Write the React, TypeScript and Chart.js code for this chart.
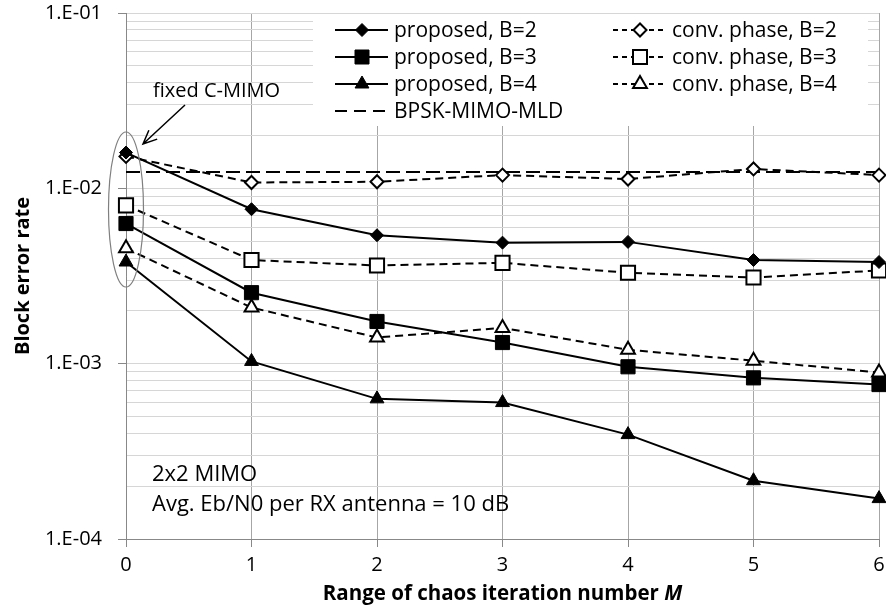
import React, { useEffect, useRef } from 'react';
import { Chart, registerables } from 'chart.js';

Chart.register(...registerables);

const M = [0, 1, 2, 3, 4, 5, 6];
const proposedB2 = [0.0160, 0.0076, 0.0054, 0.0049, 0.00495, 0.0039, 0.0038];
const convB2 = [0.0152, 0.0108, 0.0109, 0.0119, 0.0113, 0.0129, 0.0119];
const proposedB3 = [0.0063, 0.00254, 0.00174, 0.00132, 0.00096, 0.00083, 0.00076];
const convB3 = [0.0080, 0.0039, 0.00363, 0.00376, 0.0033, 0.0031, 0.0034];
const proposedB4 = [0.0038, 0.00103, 0.00063, 0.0006, 0.000394, 0.000215, 0.00017];
const convB4 = [0.00455, 0.00209, 0.00141, 0.0016, 0.0012, 0.00104, 0.00089];
const bpskMld = [0.0124, 0.0124, 0.0124, 0.0124, 0.0124, 0.0124, 0.0124];

const yDecades = [1e-4, 1e-3, 1e-2, 1e-1];
const yDecadeLabels = ['1.E-04', '1.E-03', '1.E-02', '1.E-01'];
const xTickLabels = ['0', '1', '2', '3', '4', '5', '6'];

const seriesLabels = [
  'proposed, B=2',
  'proposed, B=3',
  'proposed, B=4',
  'BPSK-MIMO-MLD',
  'conv. phase, B=2',
  'conv. phase, B=3',
  'conv. phase, B=4',
];

const FONT = '"Open Sans", Lato, "DejaVu Sans", sans-serif';
const SOLID: number[] = [];
const SHORT_DASH = [8, 5];
const LONG_DASH = [14, 6];

function markerRadius(style: string) {
  if (style === 'rect') return 10;
  if (style === 'triangle') return 8;
  return 6.5;
}

function mk(label: string, values: number[], style: string | false, filled: boolean, dash: number[]) {
  const r = style ? markerRadius(style) : 0;
  return {
    label,
    data: M.map((x, i) => ({ x, y: values[i] })),
    borderColor: '#000',
    borderWidth: 2,
    borderDash: dash,
    pointStyle: style || 'circle',
    pointRadius: r,
    pointHoverRadius: r,
    pointBackgroundColor: filled ? '#000' : '#fff',
    pointBorderColor: '#000',
    pointBorderWidth: filled ? 1 : 2,
    tension: 0,
    fill: false,
    clip: false as const,
  };
}

function drawMarker(ctx: CanvasRenderingContext2D, style: string, x: number, y: number, filled: boolean) {
  ctx.save();
  ctx.beginPath();
  if (style === 'rectRot') {
    const r = 6.5;
    ctx.moveTo(x - r, y);
    ctx.lineTo(x, y - r);
    ctx.lineTo(x + r, y);
    ctx.lineTo(x, y + r);
    ctx.closePath();
  } else if (style === 'rect') {
    const s = 7;
    ctx.rect(x - s, y - s, 2 * s, 2 * s);
  } else {
    const r = 8;
    ctx.moveTo(x, y - r);
    ctx.lineTo(x + r * 0.866, y + r * 0.5);
    ctx.lineTo(x - r * 0.866, y + r * 0.5);
    ctx.closePath();
  }
  ctx.setLineDash([]);
  ctx.fillStyle = filled ? '#000' : '#fff';
  ctx.fill();
  ctx.lineWidth = filled ? 1 : 2;
  ctx.strokeStyle = '#000';
  ctx.stroke();
  ctx.restore();
}

const decorPlugin = {
  id: 'decor',
  beforeDatasetsDraw(chart: any) {
    const ctx = chart.ctx as CanvasRenderingContext2D;
    ctx.save();
    ctx.fillStyle = '#fff';
    ctx.fillRect(313, 14, 555, 112);
    ctx.restore();
  },
  afterDraw(chart: any) {
    const ctx = chart.ctx as CanvasRenderingContext2D;
    const area = chart.chartArea;
    const xs = chart.scales.x;

    // legend
    const items = [
      { col: 0, row: 0, style: 'rectRot', filled: true, dash: SOLID, label: seriesLabels[0] },
      { col: 0, row: 1, style: 'rect', filled: true, dash: SOLID, label: seriesLabels[1] },
      { col: 0, row: 2, style: 'triangle', filled: true, dash: SOLID, label: seriesLabels[2] },
      { col: 0, row: 3, style: '', filled: false, dash: [12, 7], label: seriesLabels[3] },
      { col: 1, row: 0, style: 'rectRot', filled: false, dash: [5, 4], label: seriesLabels[4] },
      { col: 1, row: 1, style: 'rect', filled: false, dash: [5, 4], label: seriesLabels[5] },
      { col: 1, row: 2, style: 'triangle', filled: false, dash: [5, 4], label: seriesLabels[6] },
    ];
    const rowsY = [30, 57, 84, 111];
    const colX = [335, 613];
    ctx.save();
    ctx.font = `21px ${FONT}`;
    ctx.textBaseline = 'middle';
    ctx.textAlign = 'left';
    for (const it of items) {
      const x0 = colX[it.col];
      const y = rowsY[it.row];
      ctx.save();
      ctx.strokeStyle = '#000';
      ctx.lineWidth = 2;
      ctx.setLineDash(it.dash);
      ctx.beginPath();
      ctx.moveTo(x0, y);
      ctx.lineTo(x0 + 53, y);
      ctx.stroke();
      ctx.restore();
      if (it.style) drawMarker(ctx, it.style, x0 + 27, y, it.filled);
      ctx.fillStyle = '#000';
      ctx.fillText(it.label, x0 + 59, y + 1);
    }
    ctx.restore();

    // ellipse around M = 0
    const cx = xs.getPixelForValue(0);
    ctx.save();
    ctx.strokeStyle = '#7f7f7f';
    ctx.lineWidth = 1.2;
    ctx.beginPath();
    ctx.ellipse(cx, 209.5, 17.5, 77.5, 0, 0, Math.PI * 2);
    ctx.stroke();
    ctx.restore();

    // arrow + label
    ctx.save();
    ctx.strokeStyle = '#000';
    ctx.lineWidth = 1.5;
    const ax0 = 185, ay0 = 105, ax1 = 143, ay1 = 144;
    ctx.beginPath();
    ctx.moveTo(ax0, ay0);
    ctx.lineTo(ax1, ay1);
    const ang = Math.atan2(ay0 - ay1, ax0 - ax1);
    const hl = 15;
    ctx.moveTo(ax1 + hl * Math.cos(ang + 0.42), ay1 + hl * Math.sin(ang + 0.42));
    ctx.lineTo(ax1, ay1);
    ctx.lineTo(ax1 + hl * Math.cos(ang - 0.42), ay1 + hl * Math.sin(ang - 0.42));
    ctx.stroke();
    ctx.fillStyle = '#000';
    ctx.textBaseline = 'alphabetic';
    ctx.textAlign = 'left';
    ctx.font = `20px ${FONT}`;
    ctx.fillText('fixed C-MIMO', 153, 97);
    ctx.font = `22px ${FONT}`;
    ctx.fillText('2x2 MIMO', 152, 481);
    ctx.fillText('Avg. Eb/N0 per RX antenna = 10 dB', 152, 511);
    ctx.restore();

    // axis titles
    ctx.save();
    ctx.fillStyle = '#000';
    ctx.textBaseline = 'alphabetic';
    const t1 = 'Range of chaos iteration number ';
    const t2 = 'M';
    ctx.font = `bold 20.5px ${FONT}`;
    const w1 = ctx.measureText(t1).width;
    ctx.font = `italic bold 20.5px ${FONT}`;
    const w2 = ctx.measureText(t2).width;
    const midX = (area.left + area.right) / 2;
    const sx = midX - (w1 + w2) / 2;
    ctx.textAlign = 'left';
    ctx.font = `bold 20.5px ${FONT}`;
    ctx.fillText(t1, sx, 600);
    ctx.font = `italic bold 20.5px ${FONT}`;
    ctx.fillText(t2, sx + w1, 600);

    ctx.translate(23, (area.top + area.bottom) / 2);
    ctx.rotate(-Math.PI / 2);
    ctx.font = `bold 20px ${FONT}`;
    ctx.textAlign = 'center';
    ctx.textBaseline = 'middle';
    ctx.fillText('Block error rate', 0, 0);
    ctx.restore();
  },
};

function isDecade(v: number) {
  return yDecades.some((d) => Math.abs(v / d - 1) < 1e-6);
}

export default function App() {
  const ref = useRef<HTMLCanvasElement | null>(null);
  useEffect(() => {
    if (!ref.current) return;
    Chart.defaults.font.family = FONT;
    const chart = new Chart(ref.current, {
      type: 'line',
      data: {
        datasets: [
          mk(seriesLabels[0], proposedB2, 'rectRot', true, SOLID),
          mk(seriesLabels[1], proposedB3, 'rect', true, SOLID),
          mk(seriesLabels[2], proposedB4, 'triangle', true, SOLID),
          mk(seriesLabels[4], convB2, 'rectRot', false, SHORT_DASH),
          mk(seriesLabels[5], convB3, 'rect', false, SHORT_DASH),
          mk(seriesLabels[6], convB4, 'triangle', false, SHORT_DASH),
          mk(seriesLabels[3], bpskMld, false, false, LONG_DASH),
        ] as any,
      },
      options: {
        animation: false,
        responsive: false,
        maintainAspectRatio: false,
        events: [],
        layout: { autoPadding: false, padding: { left: 0, right: 7, top: 13, bottom: 0 } },
        plugins: {
          legend: { display: false },
          tooltip: { enabled: false },
          title: { display: false },
        },
        scales: {
          x: {
            type: 'linear',
            min: 0,
            max: 6,
            afterBuildTicks: (scale: any) => {
              scale.ticks = M.map((v) => ({ value: v }));
            },
            afterFit: (scale: any) => {
              scale.height = 71;
              scale.paddingLeft = 0;
              scale.paddingRight = 0;
            },
            ticks: {
              autoSkip: false,
              maxRotation: 0,
              padding: 6,
              color: '#000',
              font: { size: 20, family: FONT },
              callback: (v: any) => xTickLabels[M.indexOf(Number(v))] ?? '',
            },
            grid: {
              color: '#a6a6a6',
              lineWidth: 1,
              tickLength: 8,
              tickColor: '#888',
            },
            border: { color: '#888', width: 1 },
          },
          y: {
            type: 'logarithmic',
            min: 1e-4,
            max: 1e-1,
            afterBuildTicks: (scale: any) => {
              const t: { value: number }[] = [];
              for (let e = -4; e <= -1; e++) {
                for (let s = 1; s <= 9; s++) {
                  const v = parseFloat((s * Math.pow(10, e)).toPrecision(3));
                  if (v <= 1e-1 + 1e-12) t.push({ value: v });
                }
              }
              scale.ticks = t;
            },
            afterFit: (scale: any) => {
              scale.width = 126;
              scale.paddingTop = 0;
              scale.paddingBottom = 0;
            },
            ticks: {
              autoSkip: false,
              padding: 16,
              color: '#000',
              font: { size: 20, family: FONT },
              callback: (v: any) => {
                const n = Number(v);
                const i = yDecades.findIndex((d) => Math.abs(n / d - 1) < 1e-6);
                return i >= 0 ? yDecadeLabels[i] : '';
              },
            },
            grid: {
              color: '#d6d6d6',
              lineWidth: 1,
              tickLength: 8,
              tickColor: (c: any) => (c.tick && isDecade(c.tick.value) ? '#888' : 'rgba(0,0,0,0)'),
            },
            border: { color: '#888', width: 1 },
          },
        },
      },
      plugins: [decorPlugin],
    } as any);
    return () => chart.destroy();
  }, []);
  return (
    <div style={{ position: 'absolute', left: 0, top: 0, width: 886, height: 610, background: '#fff' }}>
      <canvas ref={ref} width={886} height={610} style={{ width: 886, height: 610, display: 'block' }} />
    </div>
  );
}
